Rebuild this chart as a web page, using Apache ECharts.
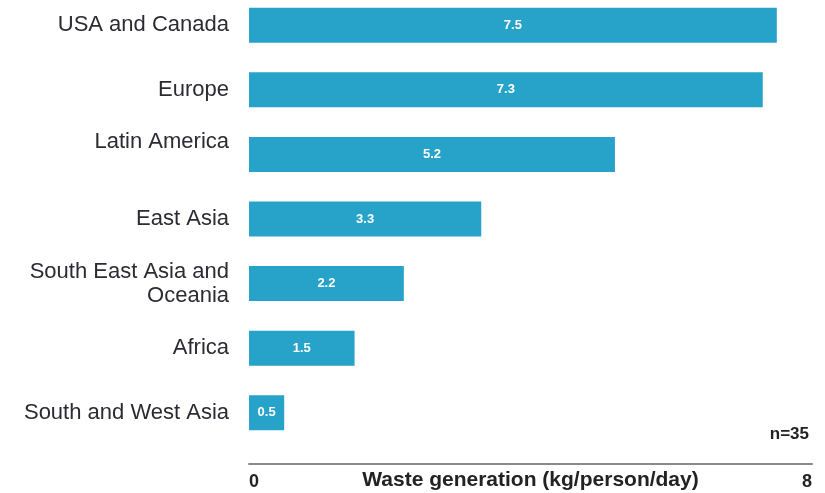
<!DOCTYPE html>
<html>
<head>
<meta charset="utf-8">
<script src="https://cdn.jsdelivr.net/npm/echarts@6/dist/echarts.min.js"></script>
<style>html,body{margin:0;padding:0;background:#fff}#c{width:825px;height:493px}</style>
</head>
<body>
<div id="c"></div>
<script>
var categories = ['USA and Canada', 'Europe', 'Latin America', 'East Asia', 'South East Asia and\nOceania', 'Africa', 'South and West Asia'];
var values = [7.5, 7.3, 5.2, 3.3, 2.2, 1.5, 0.5];
var axisTitle = 'Waste generation (kg/person/day)';
var noteText = 'n=35';

var FONT = 'Liberation Sans, Arial, sans-serif';
var chart = echarts.init(document.getElementById('c'));
chart.setOption({
  animation: false,
  grid: { left: 249, right: 13, top: -7, bottom: 48, containLabel: false, outerBoundsMode: 'none' },
  xAxis: {
    type: 'value', min: 0, max: 8, interval: 8,
    offset: 19,
    splitLine: { show: false },
    axisTick: { show: false },
    axisLine: { show: true, lineStyle: { color: '#8a8a8a', width: 2 } },
    axisLabel: { margin: 9, color: '#222', fontWeight: 'bold', fontSize: 18, fontFamily: FONT, alignMinLabel: 'left', alignMaxLabel: 'right' },
    name: axisTitle, nameLocation: 'middle', nameGap: 6, nameMoveOverlap: false,
    nameTextStyle: { color: '#222', fontWeight: 'bold', fontSize: 21, fontFamily: FONT, verticalAlign: 'top' }
  },
  yAxis: {
    type: 'category', data: categories, inverse: true,
    axisLine: { show: false }, axisTick: { show: false },
    axisLabel: {
      margin: 20, color: '#2b2b33', fontSize: 22, lineHeight: 24,
      fontFamily: FONT,
      formatter: function (v) { return v === 'Latin America' ? v + '\n ' : v; }
    }
  },
  series: [{
    type: 'bar', data: values, barWidth: 35,
    itemStyle: { color: '#27a2c9' },
    label: { show: true, position: 'inside', color: '#fff', fontWeight: 'bold', fontSize: 13, fontFamily: FONT }
  }],
  graphic: [{
    type: 'text', right: 16, top: 426,
    style: { text: noteText, fill: '#222', fontWeight: 'bold', fontSize: 17, fontFamily: FONT }
  }]
});
</script>
</body>
</html>
